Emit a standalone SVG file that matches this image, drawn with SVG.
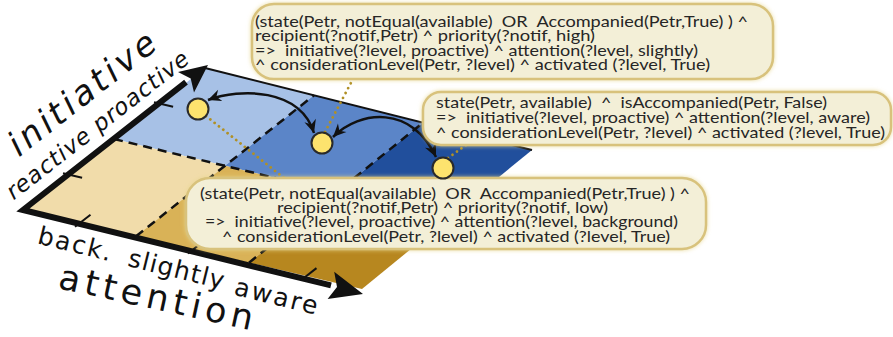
<svg xmlns="http://www.w3.org/2000/svg" width="893" height="337" viewBox="0 0 893 337">
  <defs>
    <style>
      .rule { font-family: Lato, "Open Sans", "Liberation Sans", sans-serif; font-size: 15px; fill: #262626; white-space: pre; }
      .axis-label { font-family: "DejaVu Sans", "Liberation Sans", sans-serif; fill: #111; white-space: pre; }
      .callout { fill: #f3efd7; stroke: #d8c27c; stroke-width: 2.5; }
      .dash { fill: none; stroke: #111; stroke-width: 2.5; stroke-dasharray: 9 6; }
      .tick { stroke: #111; stroke-width: 2; }
      .leader { fill: none; stroke: #b09025; stroke-width: 2.8; stroke-dasharray: 0.01 5.5; stroke-linecap: round; }
      .move { fill: none; stroke: #111; stroke-width: 2.5; marker-start: url(#head); marker-end: url(#head); }
      .state { fill: #fde36e; stroke: #2a2a2a; stroke-width: 2; }
    </style>
    <marker id="head" viewBox="-14 -7 15 14" refX="0" refY="0" markerWidth="15" markerHeight="14" markerUnits="userSpaceOnUse" orient="auto-start-reverse">
      <path d="M0,0 L-13,-6 L-9,0 L-13,6 Z" fill="#111"/>
    </marker>
    <filter id="glow" x="-5%" y="-20%" width="110%" height="140%">
      <feGaussianBlur in="SourceAlpha" stdDeviation="2.5"/>
      <feFlood flood-color="#e6d48a" flood-opacity="0.8"/>
      <feComposite operator="in" in2="SourceAlpha"/>
      <feGaussianBlur stdDeviation="2"/>
      <feMerge><feMergeNode/><feMergeNode in="SourceGraphic"/></feMerge>
    </filter>
  </defs>

  <!-- the initiative x attention plane -->
  <g id="plane">
    <polygon points="205,68 314,95.3 225,165.8 114,139" fill="#a7c1e6"/>
    <polygon points="314,95.3 423,122.7 336,192.7 225,165.8" fill="#5b85c8"/>
    <polygon points="423,122.7 532,150 447,219.5 336,192.7" fill="#214f9c"/>
    <polygon points="114,139 225,165.8 136,236.3 23,210" fill="#f1dcaa"/>
    <polygon points="225,165.8 336,192.7 249,262.7 136,236.3" fill="#d9b257"/>
    <polygon points="336,192.7 447,219.5 362,289 249,262.7" fill="#b7871f"/>
    <line x1="205" y1="68" x2="532" y2="150" stroke="#111" stroke-width="2"/>
    <line class="dash" x1="114" y1="139" x2="447" y2="219.5"/>
    <line class="dash" x1="136" y1="236.3" x2="314" y2="95.3"/>
    <line class="dash" x1="249" y1="262.7" x2="423" y2="122.7"/>
  </g>

  <!-- axes with arrowheads and ticks -->
  <g id="axes">
    <polyline points="186,82.2 23,210 331,285.4" fill="none" stroke="#111" stroke-width="6" stroke-linejoin="miter" stroke-miterlimit="10"/>
    <polygon points="208,65 178,72 190.7,78.6 194,92.4" fill="#111"/>
    <polygon points="363,294 334.2,271.8 337,287 327.6,299" fill="#111"/>
    <line class="tick" x1="63" y1="173.2" x2="82.1" y2="177.8"/>
    <line class="tick" x1="154" y1="102.2" x2="173.1" y2="106.8"/>
    <line class="tick" x1="75" y1="226.8" x2="90.5" y2="214.7"/>
    <line class="tick" x1="188" y1="253.5" x2="203.5" y2="241.4"/>
    <line class="tick" x1="301" y1="280.2" x2="316.5" y2="268.1"/>
  </g>

  <g id="axis-labels">
    <text class="axis-label" transform="translate(23,210) rotate(-38) translate(27,-44) skewX(-12)" font-size="34" textLength="178" lengthAdjust="spacing">initiative</text>
    <text class="axis-label" transform="translate(23,210) rotate(-38) translate(-3,-13.3) skewX(-12)" font-size="23" textLength="225" lengthAdjust="spacing">reactive proactive</text>
    <text class="axis-label" transform="translate(57,288) rotate(12.3)" font-size="35" textLength="198" lengthAdjust="spacing">attention</text>
    <text class="axis-label" transform="translate(23,210) rotate(13.8)" x="21" y="29" font-size="25" textLength="75" lengthAdjust="spacing">back.</text>
    <text class="axis-label" transform="translate(23,210) rotate(13.8)" x="114" y="29.5" font-size="25" textLength="98" lengthAdjust="spacing">slightly</text>
    <text class="axis-label" transform="translate(23,210) rotate(13.8)" x="224" y="32" font-size="25" textLength="85" lengthAdjust="spacing">aware</text>
  </g>

  <!-- transitions and leader lines -->
  <g id="connectors">
    <path class="move" d="M208,100 C240,88 300,88 314,133"/>
    <path class="move" d="M333,137 C360,110 412,105 436,157"/>
    <line class="leader" x1="206" y1="116" x2="284" y2="178"/>
    <line class="leader" x1="325" y1="132" x2="353" y2="79"/>
    <line class="leader" x1="448" y1="158" x2="466" y2="145"/>
  </g>

  <g id="rule-high">
    <rect class="callout" x="252" y="4" width="521" height="75" rx="22" filter="url(#glow)"/>
    <text class="rule" x="255" y="26.5" textLength="493" lengthAdjust="spacingAndGlyphs">(state(Petr, notEqual(available)  OR  Accompanied(Petr,True) ) ^</text>
    <text class="rule" x="255" y="41" textLength="340" lengthAdjust="spacingAndGlyphs">recipient(?notif,Petr) ^ priority(?notif, high)</text>
    <text class="rule" x="255" y="55.5" textLength="443" lengthAdjust="spacingAndGlyphs">=&gt;  initiative(?level, proactive) ^ attention(?level, slightly)</text>
    <text class="rule" x="255" y="70" textLength="455" lengthAdjust="spacingAndGlyphs">^ considerationLevel(Petr, ?level) ^ activated (?level, True)</text>
  </g>

  <g id="rule-available">
    <rect class="callout" x="423" y="92" width="468" height="53" rx="18" filter="url(#glow)"/>
    <text class="rule" x="436" y="107.5" textLength="391" lengthAdjust="spacingAndGlyphs">state(Petr, available)  ^  isAccompanied(Petr, False)</text>
    <text class="rule" x="436" y="122.5" textLength="434" lengthAdjust="spacingAndGlyphs">=&gt;  initiative(?level, proactive) ^ attention(?level, aware)</text>
    <text class="rule" x="436" y="137.5" textLength="449" lengthAdjust="spacingAndGlyphs">^ considerationLevel(Petr, ?level) ^ activated (?level, True)</text>
  </g>

  <g id="rule-low">
    <rect class="callout" x="186" y="178" width="520" height="71" rx="24" filter="url(#glow)"/>
    <text class="rule" x="200" y="198.5" textLength="490" lengthAdjust="spacingAndGlyphs">(state(Petr, notEqual(available)  OR  Accompanied(Petr,True) ) ^</text>
    <text class="rule" x="277" y="212.5" textLength="331" lengthAdjust="spacingAndGlyphs">recipient(?notif,Petr) ^ priority(?notif, low)</text>
    <text class="rule" x="205" y="227" textLength="473" lengthAdjust="spacingAndGlyphs">=&gt;  initiative(?level, proactive) ^ attention(?level, background)</text>
    <text class="rule" x="222" y="241.5" textLength="448" lengthAdjust="spacingAndGlyphs">^ considerationLevel(Petr, ?level) ^ activated (?level, True)</text>
  </g>

  <!-- system states on the plane -->
  <g id="state-slightly"><circle class="state" cx="198" cy="109" r="10.5"/></g>
  <g id="state-background"><circle class="state" cx="322" cy="143" r="10.5"/></g>
  <g id="state-aware"><circle class="state" cx="443" cy="168" r="10.5"/></g>
</svg>
